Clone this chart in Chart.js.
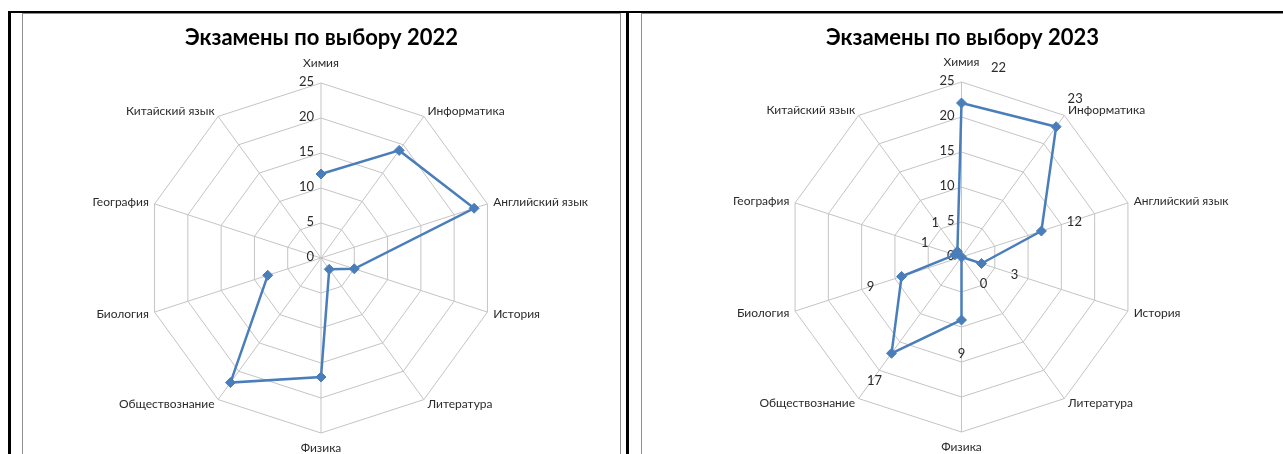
<!DOCTYPE html>
<html lang="ru">
<head>
<meta charset="utf-8">
<title>Экзамены по выбору</title>
<script src="https://cdn.jsdelivr.net/npm/chart.js@4.4.0/dist/chart.umd.min.js"></script>
<style>
    html, body { margin: 0; padding: 0; background: #fff; }
    body { width: 1283px; height: 454px; position: relative; overflow: hidden; }
    .rule { position: absolute; background: #000; }
    .panel { position: absolute; top: 13px; height: 460px; border: 1px solid #8e8e8e; background: #fff; box-sizing: border-box; }
    .panel canvas { position: absolute; left: 0; top: 0; }
</style>
</head>
<body>
<div class="rule" style="left:8px; top:11px; width:1275px; height:2px"></div>
<div class="rule" style="left:8px; top:11px; width:3px; height:443px"></div>
<div class="rule" style="left:626px; top:11px; width:3px; height:443px"></div>
<div class="panel" style="left:22px; width:599px"><canvas id="chart2022" width="597" height="458"></canvas></div>
<div class="panel" style="left:641px; width:643px"><canvas id="chart2023" width="641" height="458"></canvas></div>

<script>
// Data
const subjects = ['Химия', 'Информатика', 'Английский язык', 'История', 'Литература',
    'Физика', 'Обществознание', 'Биология', 'География', 'Китайский язык'];
const values2022 = [12, 19, 23, 5, 2, 17, 22, 8, null, null];
const values2023 = [22, 23, 12, 3, 0, 9, 17, 9, 1, 1];
const tickValues = [0, 5, 10, 15, 20, 25];

const lineColor = '#4a7ebb';
const gridColor = '#c4c4c4';
const textColor = '#2b2b2b';
const fontFamily = 'Lato, "Open Sans", sans-serif';

// where the data labels sit relative to their point (2023 chart only)
const labelOffsets2023 = [
    [37, -35], [19, -28], [33, -9], [33, 11], [22, 27],
    [0, 34], [-17, 28], [-31, 10], [-30, -12], [-22, -29]
];

// Excel-like labels: ticks left of the axis, category names, moved data labels
const excelLabels = {
    id: 'excelLabels',
    beforeDatasetsDraw(chart) {
        const r = chart.scales.r;
        const ctx = chart.ctx;
        ctx.save();
        ctx.fillStyle = textColor;
        ctx.textBaseline = 'middle';

        ctx.font = '13px ' + fontFamily;
        ctx.textAlign = 'right';
        tickValues.forEach(v => {
            const y = r.yCenter - r.getDistanceFromCenterForValue(v);
            ctx.fillText(String(v), r.xCenter - 7, y - 1);
        });

        ctx.font = '12px ' + fontFamily;
        chart.data.labels.forEach((label, i) => {
            const a = r.getIndexAngle(i);
            const sx = Math.sin(a);
            const p = r.getPointPosition(i, r.drawingArea + 6);
            let y = p.y;
            if (sx > 0.1) ctx.textAlign = 'left';
            else if (sx < -0.1) ctx.textAlign = 'right';
            else {
                ctx.textAlign = 'center';
                y += Math.cos(a) > 0 ? -14 : 9;
            }
            ctx.fillText(label, p.x, y);
        });
        ctx.restore();
    },
    afterDatasetsDraw(chart, args, opts) {
        if (!opts.offsets) return;
        const meta = chart.getDatasetMeta(0);
        const values = chart.data.datasets[0].data;
        const ctx = chart.ctx;
        ctx.save();
        ctx.fillStyle = textColor;
        ctx.font = '13px ' + fontFamily;
        ctx.textAlign = 'center';
        ctx.textBaseline = 'middle';
        meta.data.forEach((pt, i) => {
            if (values[i] === null) return;
            const off = opts.offsets[i];
            ctx.fillText(String(values[i]), pt.x + off[0], pt.y + off[1]);
        });
        ctx.restore();
    }
};

function createRadar(id, year, values, cx, cy, offsets) {
    const ctx = document.getElementById(id);
    return new Chart(ctx, {
        type: 'radar',
        data: {
            labels: subjects,
            datasets: [{
                label: String(year),
                data: values,
                borderColor: lineColor,
                backgroundColor: lineColor,
                borderWidth: 2.5,
                fill: false,
                tension: 0,
                spanGaps: false,
                pointStyle: 'rectRot',
                pointRadius: 5,
                pointBackgroundColor: lineColor,
                pointBorderColor: lineColor,
                pointBorderWidth: 1
            }]
        },
        options: {
            responsive: false,
            animation: false,
            devicePixelRatio: 1,
            plugins: {
                legend: { display: false },
                tooltip: { enabled: false },
                title: {
                    display: true,
                    text: 'Экзамены по выбору ' + year,
                    color: '#000',
                    font: { family: fontFamily, size: 22, weight: 'bold' },
                    padding: { top: 11, bottom: 0 }
                },
                excelLabels: { offsets: offsets }
            },
            scales: {
                r: {
                    min: 0,
                    max: 25,
                    ticks: { stepSize: 5, display: false },
                    pointLabels: { display: false },
                    grid: { color: gridColor, lineWidth: 1 },
                    angleLines: { color: gridColor, lineWidth: 1 },
                    afterFit(scale) {
                        scale.xCenter = cx;
                        scale.yCenter = cy;
                        scale.drawingArea = 175;
                    }
                }
            }
        },
        plugins: [excelLabels]
    });
}

createRadar('chart2022', 2022, values2022, 298, 244, null);
createRadar('chart2023', 2023, values2023, 319.5, 243, labelOffsets2023);
</script>
</body>
</html>
